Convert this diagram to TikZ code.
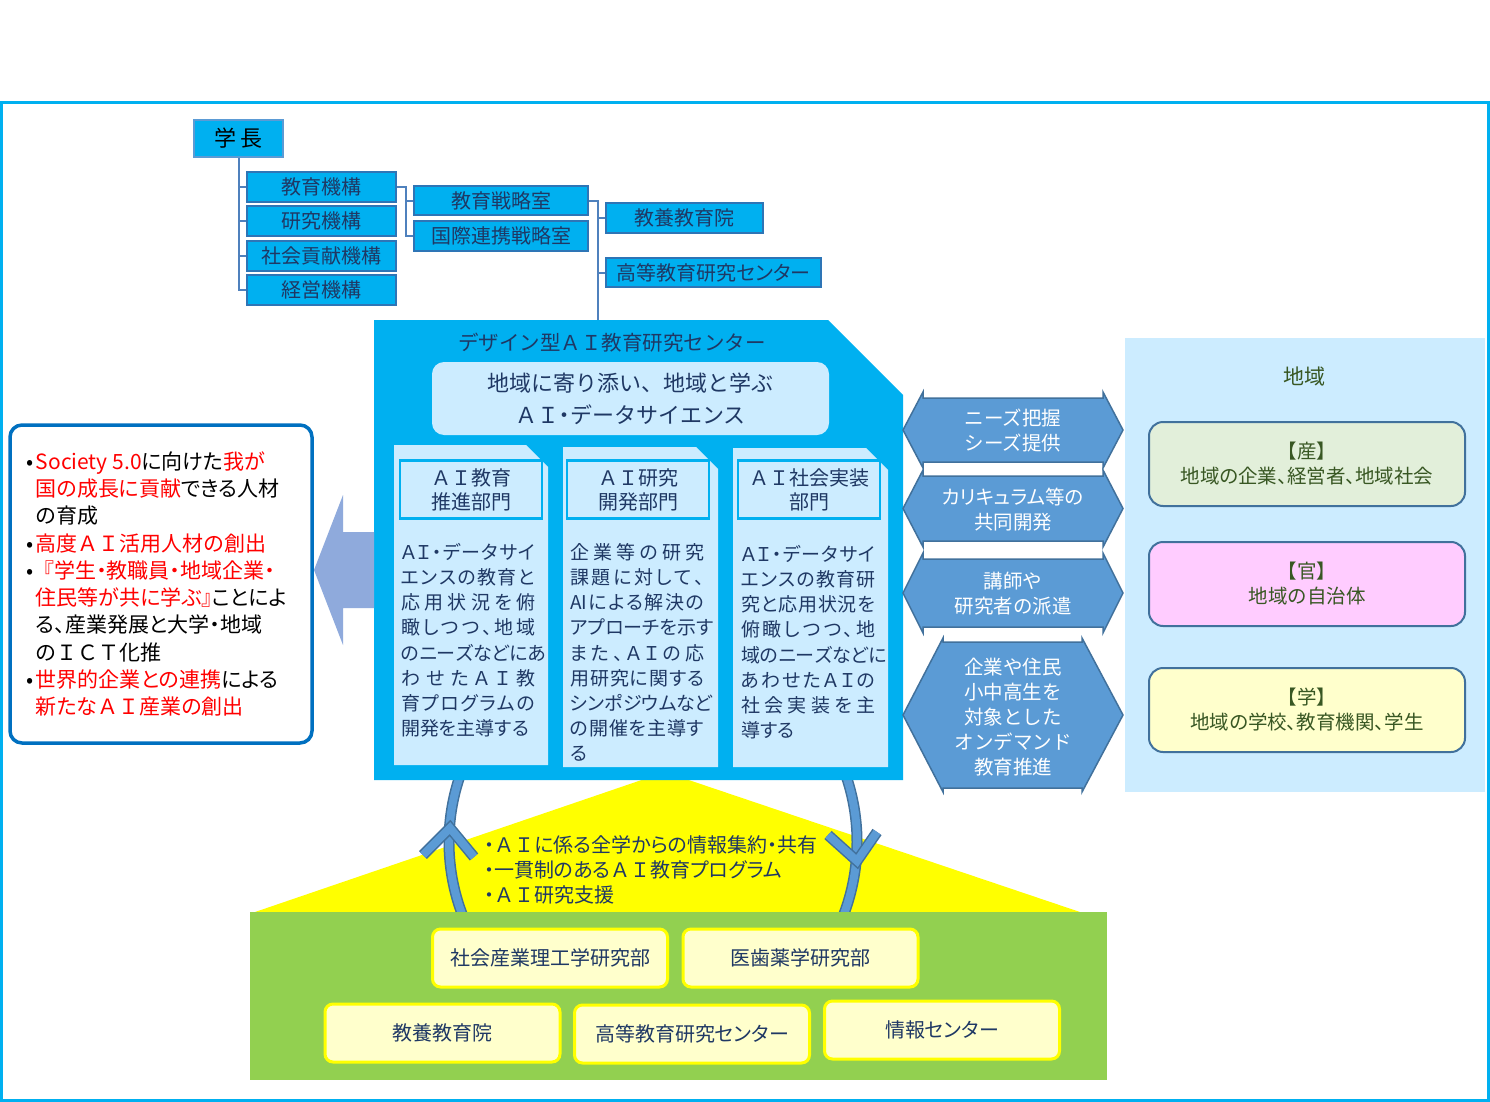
\documentclass[tikz,border=0pt]{standalone}
\usepackage{fontspec}
\setmainfont{Noto Sans CJK JP}
\newfontfamily\pj{Noto Sans CJK JP}[RawFeature=+palt]
\usetikzlibrary{calc}
\definecolor{cy}{HTML}{00B0F0}
\definecolor{navy}{HTML}{1F3864}
\definecolor{orgline}{HTML}{4F81BD}
\definecolor{orgborder}{HTML}{2E75B6}
\definecolor{topborder}{HTML}{5B9BD5}
\definecolor{lightbg}{HTML}{CCECFF}
\definecolor{arrfill}{HTML}{5B9BD5}
\definecolor{arrborder}{HTML}{41719C}
\definecolor{leftarr}{HTML}{8FAADC}
\definecolor{framebl}{HTML}{0070C0}
\definecolor{grn}{HTML}{92D050}
\definecolor{ylw}{HTML}{FFFF00}
\definecolor{lylw}{HTML}{FFFFCC}
\definecolor{lgrn}{HTML}{E2EFDA}
\definecolor{pnk}{HTML}{FFCCFF}
\definecolor{dgrn}{HTML}{385723}
\definecolor{redtx}{HTML}{FF0000}
\newlength\colw \setlength\colw{134pt}
\makeatletter
\def\spr@loop#1{\ifx#1\relax\else#1\hfil\expandafter\spr@loop\fi}
\newcommand\jl[1]{\makebox[\colw][s]{\spr@loop#1\relax\unskip}}
\newcommand\jr[1]{\makebox[\colw][l]{#1}}
\makeatother
\def\AIh{\mbox{AI}}
\newcommand\fw[1]{{\rmfamily #1}}
\newcommand\bul{•\hspace{2.5pt}}
\newcommand\nobul{\phantom{•}\hspace{2.5pt}}
\begin{document}
\begin{tikzpicture}[x=1pt,y=-1pt,
  orgtop/.style={draw=topborder,fill=cy,line width=2.5,inner sep=0,minimum width=89,minimum height=37,font=\fontsize{22}{26}\selectfont,text=black},
  orgbox/.style={draw=orgborder,fill=cy,line width=2,inner sep=0,minimum height=30,font=\fontsize{20}{24}\selectfont,text=navy},
  orgln/.style={draw=orgline,line width=2},
  colhead/.style={draw=cy,fill=lightbg,line width=2.5,inner sep=0,minimum width=142,minimum height=58,align=center,font=\fontsize{20}{24}\selectfont,text=navy},
  colbody/.style={anchor=north west,inner sep=0,align=left,font=\pj\fontsize{19}{25.2}\selectfont,text=navy},
  dblarr/.style={fill=arrfill,draw=arrborder,line width=1.5},
  arrtext/.style={align=center,text=white,font=\fontsize{19.5}{25}\selectfont,inner sep=0},
  rbox/.style={draw=arrborder,line width=2,rounded corners=14,minimum width=316,minimum height=84,align=center,text=dgrn,font=\fontsize{19.5}{25}\selectfont,inner sep=0},
  bbox/.style={draw=ylw,fill=lylw,line width=3,rounded corners=8,minimum width=235,minimum height=58,text=navy,font=\fontsize{20}{24}\selectfont,inner sep=0},
  ringdark/.style={draw=arrborder,line width=11},
  ringlight/.style={draw=arrfill,line width=8}
]
\useasboundingbox (0,0) rectangle (1490,1102);
\fill[white] (0,0) rectangle (1490,1102);
% outer frame
\draw[cy,line width=3] (1.5,103) rectangle (1488.5,1100.5);

% ---------------- org chart ----------------
\node[orgtop] (gakucho) at (238.5,138.5) {学 長};
\node[orgbox,minimum width=149] (kyoiku) at (321.5,187) {教育機構};
\node[orgbox,minimum width=149] (kenkyu) at (321.5,221) {研究機構};
\node[orgbox,minimum width=149] (shakai) at (321.5,256) {社会貢献機構};
\node[orgbox,minimum width=149] (keiei) at (321.5,290) {経営機構};
\node[orgbox,minimum width=174,minimum height=29] (senryaku) at (501,200.5) {教育戦略室};
\node[orgbox,minimum width=174] (kokusai) at (501,236) {国際連携戦略室};
\node[orgbox,minimum width=157] (kyoyo) at (684.5,218) {教養教育院};
\node[orgbox,minimum width=215,minimum height=29] (koto) at (713.5,272.5) {{\pj 高等教育研究センター}};
\coordinate (dtop) at (597,320);

\draw[orgln] (gakucho.south) -- (gakucho.south |- keiei.west) -- (keiei.west);
\draw[orgln] (gakucho.south |- kyoiku.west) -- (kyoiku.west);
\draw[orgln] (gakucho.south |- kenkyu.west) -- (kenkyu.west);
\draw[orgln] (gakucho.south |- shakai.west) -- (shakai.west);
\draw[orgln] (kyoiku.east) -- ++(9,0) coordinate (j1) |- (senryaku.west);
\draw[orgln] (j1) |- (kokusai.west);
\draw[orgln] (senryaku.east) -- ++(9,0) coordinate (j2) |- (kyoyo.west);
\draw[orgln] (j2) |- (koto.west);
\draw[orgln] (j2) -- (j2 |- dtop);

% ---------------- yellow triangle & ring ----------------
\fill[ylw] (665,772) -- (1080,912) -- (255,912) -- cycle;
\draw[ringdark] (653,842) circle[radius=204];
\draw[ringlight] (653,842) circle[radius=204];
\draw[ringdark] (423,855) -- (450,828) -- (474,857);
\draw[ringdark] (828,835) -- (857,861) -- (877,832);
\draw[ringlight] (423,855) -- (450,828) -- (474,857);
\draw[ringlight] (828,835) -- (857,861) -- (877,832);

% ---------------- design center box ----------------
\fill[cy] (374,320) -- (828,320) -- (903,395) -- (903,780) -- (374,780) -- cycle;
\node[text=navy,font=\fontsize{20.5}{24}\selectfont,inner sep=0] (dtitle) at (612,343) {デザイン型ＡＩ教育研究センター};
\node[fill=lightbg,rounded corners=12,minimum width=397,minimum height=73,inner sep=0,align=center,text=navy,font=\fontsize{22}{32}\selectfont] (motto) at (630.5,398.5) {地域に寄り添い、地域と学ぶ\\ＡＩ{\pj ・}データサイエンス};

\fill[lightbg] (394,445) -- (526,445) -- (548,467) -- (548,765) -- (394,765) -- cycle;
\fill[lightbg] (563,447) -- (696,447) -- (718,469) -- (718,767) -- (563,767) -- cycle;
\fill[lightbg] (733,448) -- (866,448) -- (888,470) -- (888,767) -- (733,767) -- cycle;

\node[colhead] (h1) at (471,489.5) {ＡＩ教育\\推進部門};
\node[colhead] (h2) at (638,489.5) {ＡＩ研究\\開発部門};
\node[colhead] (h3) at (809,489.5) {ＡＩ社会実装\\部門};

\node[colbody] (b1) at (401,543) {\jl{ＡＩ・データサイ}\\\jl{エンスの教育と}\\\jl{応用状況を俯}\\\jl{瞰しつつ、地域}\\\jl{のニーズなどにあ}\\\jl{わせたＡＩ教}\\\jl{育プログラムの}\\\jr{開発を主導する}};
\node[colbody] (b2) at (570,543) {\jl{企業等の研究}\\\jl{課題に対して、}\\\jl{\AIh による解決の}\\\jl{アプローチを示す}\\\jl{また、ＡＩの応}\\\jl{用研究に関する}\\\jl{シンポジウムなど}\\\jl{の開催を主導す}\\\jr{る}};
\node[colbody] (b3) at (741,545) {\jl{ＡＩ・データサイ}\\\jl{エンスの教育研}\\\jl{究と応用状況を}\\\jl{俯瞰しつつ、地}\\\jl{域のニーズなどに}\\\jl{あわせたＡＩの}\\\jl{社会実装を主}\\\jr{導する}};

% ---------------- bottom green area ----------------
\fill[grn] (250,912) rectangle (1107,1080);
\node[bbox] (shakaisangyo) at (550,958) {社会産業理工学研究部};
\node[bbox] (ishiyaku) at (800.5,958) {医歯薬学研究部};
\node[bbox] (kyoyo2) at (442.5,1033) {教養教育院};
\node[bbox] (koto2) at (692,1034) {{\pj 高等教育研究センター}};
\node[bbox] (joho) at (942,1030) {{\pj 情報センター}};

\node[anchor=west,align=left,inner sep=0,text=navy,font=\pj\fontsize{20}{25}\selectfont] (tritext) at (484,870) {・\fw{ＡＩ}に係る全学からの情報集約・共有\\・一貫制のある\fw{ＡＩ}教育プログラム\\・\fw{ＡＩ}研究支援};

% ---------------- double arrows ----------------
\draw[dblarr] (903,430) -- (923,392) -- (923,398) -- (1103,398) -- (1103,392) -- (1123,430) -- (1103,468) -- (1103,462) -- (923,462) -- (923,468) -- cycle;
\node[arrtext] (a1) at (1013,430) {ニーズ把握\\シーズ提供};
\draw[dblarr] (903,508.5) -- (923,470) -- (923,476) -- (1103,476) -- (1103,470) -- (1123,508.5) -- (1103,547) -- (1103,541) -- (923,541) -- (923,547) -- cycle;
\node[arrtext] (a2) at (1013,510) {{\pj カリキュラム}等の\\共同開発};
\draw[dblarr] (903,593) -- (923,553) -- (923,559) -- (1103,559) -- (1103,553) -- (1123,593) -- (1103,633) -- (1103,627) -- (923,627) -- (923,633) -- cycle;
\node[arrtext] (a3) at (1013,594) {講師や\\研究者の派遣};
\draw[dblarr] (903,715) -- (943,638) -- (943,642) -- (1082,642) -- (1082,638) -- (1123,715) -- (1082,792) -- (1082,788) -- (943,788) -- (943,792) -- cycle;
\node[arrtext] (a4) at (1013,717) {企業や住民\\小中高生を\\対象とした\\オンデマンド\\教育推進};

% ---------------- region ----------------
\fill[lightbg] (1125,338) rectangle (1485,792);
\node[text=dgrn,font=\fontsize{21}{25}\selectfont,inner sep=0] (chiiki) at (1304,377) {地域};
\node[rbox,fill=lgrn] (san) at (1307,464) {【産】\\{\pj 地域の企業、経営者、地域社会}};
\node[rbox,fill=pnk] (kan) at (1307,584) {【官】\\地域の自治体};
\node[rbox,fill=lylw] (gaku) at (1307,710) {【学】\\{\pj 地域の学校、教育機関、学生}};

% ---------------- left goal box ----------------
\node[draw=framebl,fill=white,line width=3.5,rounded corners=12,minimum width=302,minimum height=318,inner sep=0] (goal) at (161,584) {};
\node[anchor=west,align=left,inner sep=0,text=black,font=\pj\fontsize{21}{27.3}\selectfont] (goaltext) at (26,584) {%
\bul\textcolor{redtx}{Society 5.0}に向けた\textcolor{redtx}{我が}\\
\nobul\textcolor{redtx}{国の成長に貢献}できる人材\\
\nobul の育成\\
\bul\textcolor{redtx}{高度\fw{ＡＩ}活用人材の創出}\\
•\textcolor{redtx}{\fw{『}学生・教職員・地域企業・}\\
\nobul\textcolor{redtx}{住民等が共に学ぶ』}ことによ\\
\nobul る、産業発展と大学・地域\\
\nobul の\fw{ＩＣＴ}化推\\
\bul\textcolor{redtx}{世界的企業との連携}による\\
\nobul\textcolor{redtx}{新たな\fw{ＡＩ}産業の創出}};
\fill[leftarr] (314,570) -- (343,495) -- (343,532) -- (374,532) -- (374,608) -- (343,608) -- (343,645) -- cycle;
\end{tikzpicture}
\end{document}
